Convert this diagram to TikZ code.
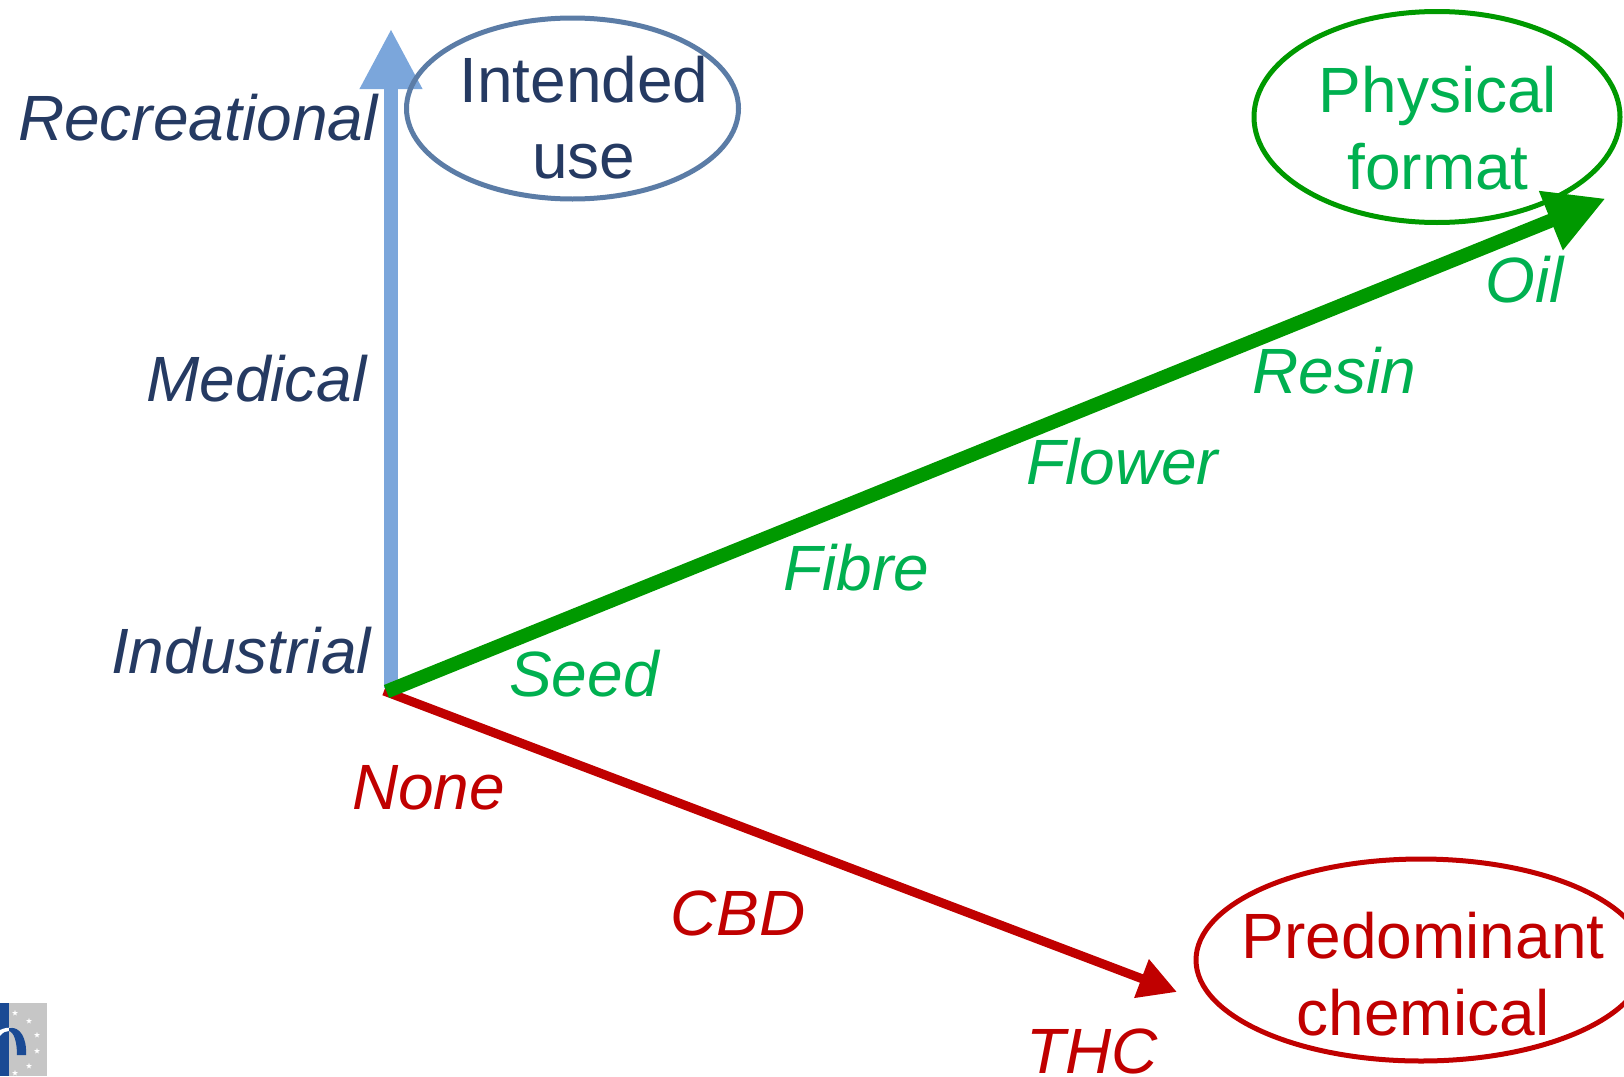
\documentclass[tikz,border=0pt]{standalone}
\usepackage{fontspec}
\setmainfont{Liberation Sans}
\usetikzlibrary{arrows.meta,shapes.geometric}
\definecolor{navy}{HTML}{253A62}
\definecolor{ringblue}{HTML}{5B7CA6}
\definecolor{axisblue}{HTML}{7BA6DB}
\definecolor{txtgreen}{HTML}{00B050}
\definecolor{axisgreen}{HTML}{009900}
\definecolor{axisred}{HTML}{C00000}
\definecolor{logoblue}{HTML}{1A4A94}
\definecolor{logogray}{HTML}{C6C6C6}
\tikzset{
  lbl/.style={inner sep=0pt,font=\fontsize{64}{64}\selectfont\itshape,anchor=base west},
  ttl/.style={inner sep=0pt,font=\fontsize{64}{64}\selectfont,anchor=base},
  ring/.style={ellipse,draw,line width=5pt,inner sep=0pt},
  logostar/.style={star,star points=5,star point ratio=2.4,fill=white,inner sep=0pt,minimum size=6pt}
}
\begin{document}
\begin{tikzpicture}[x=1pt,y=-1pt]
\useasboundingbox (0,0) rectangle (1624,1076);
% logo
\fill[logogray] (0,1003) rectangle (47,1076);
\fill[logoblue] (0,1003) rectangle (9,1076);
\fill[white] (0,1030) .. controls (4,1028) and (9,1027) .. (14,1028) -- (9,1031) .. controls (6,1031) and (3,1032) .. (0,1036) -- cycle;
\fill[logoblue] (9,1028) .. controls (20,1026) and (27,1038) .. (26,1055) -- (17,1055) .. controls (17,1042) and (14,1032) .. (9,1031) -- cycle;
\foreach \p in {(15,1013),(29,1021),(37,1035),(37,1051),(29,1066),(15,1073)} \node[logostar] at \p {};
% anchors
\coordinate (bluestart) at (391,688);
\coordinate (greenstart) at (386.5,691.5);
\coordinate (redstart) at (384,691);
\coordinate (usetip) at (391,29);
\coordinate (formattip) at (1605.5,198.5);
\coordinate (chemtip) at (1177,992);
% axes
\draw[axisblue,line width=13.5pt,-{Triangle[length=60pt,width=59pt]}] (bluestart) -- (usetip);
\draw[axisred,line width=9pt,-{Triangle[length=38pt,width=39pt]}] (redstart) -- (chemtip);
\draw[axisgreen,line width=14pt,-{Triangle[length=59pt,width=60pt]}] (greenstart) -- (formattip);
% ellipses
\node[ring,draw=ringblue,minimum width=332pt,minimum height=181pt] (intended) at (572.5,108.5) {};
\node[ring,draw=axisgreen,minimum width=366pt,minimum height=211pt] (physical) at (1437,117) {};
\node[ring,draw=axisred,minimum width=450pt,minimum height=202pt] (chemical) at (1421,960) {};
% titles
\node[ttl,text=navy] (t1a) at (584,102) {Intended};
\node[ttl,text=navy] (t1b) at (584,178) {use};
\node[ttl,text=txtgreen] (t2a) at (1438,112) {Physical};
\node[ttl,text=txtgreen] (t2b) at (1438,189) {format};
\node[ttl,text=axisred] (t3a) at (1423,958) {Predominant};
\node[ttl,text=axisred] (t3b) at (1423,1035) {chemical};
% labels
\node[lbl,text=navy] (rec) at (18,140) {Recreational};
\node[lbl,text=navy] (med) at (146,401) {Medical};
\node[lbl,text=navy] (ind) at (111,673) {Industrial};
\node[lbl,text=txtgreen] (seed) at (509,696) {Seed};
\node[lbl,text=txtgreen] (fibre) at (783,590) {Fibre};
\node[lbl,text=txtgreen] (flower) at (1026,484) {Flower};
\node[lbl,text=txtgreen] (resin) at (1252,393) {Resin};
\node[lbl,text=txtgreen] (oil) at (1485,302) {Oil};
\node[lbl,text=axisred] (none) at (352,809) {None};
\node[lbl,text=axisred] (cbd) at (670,935) {CBD};
\node[lbl,text=axisred] (thc) at (1026,1073) {THC};
\end{tikzpicture}
\end{document}
